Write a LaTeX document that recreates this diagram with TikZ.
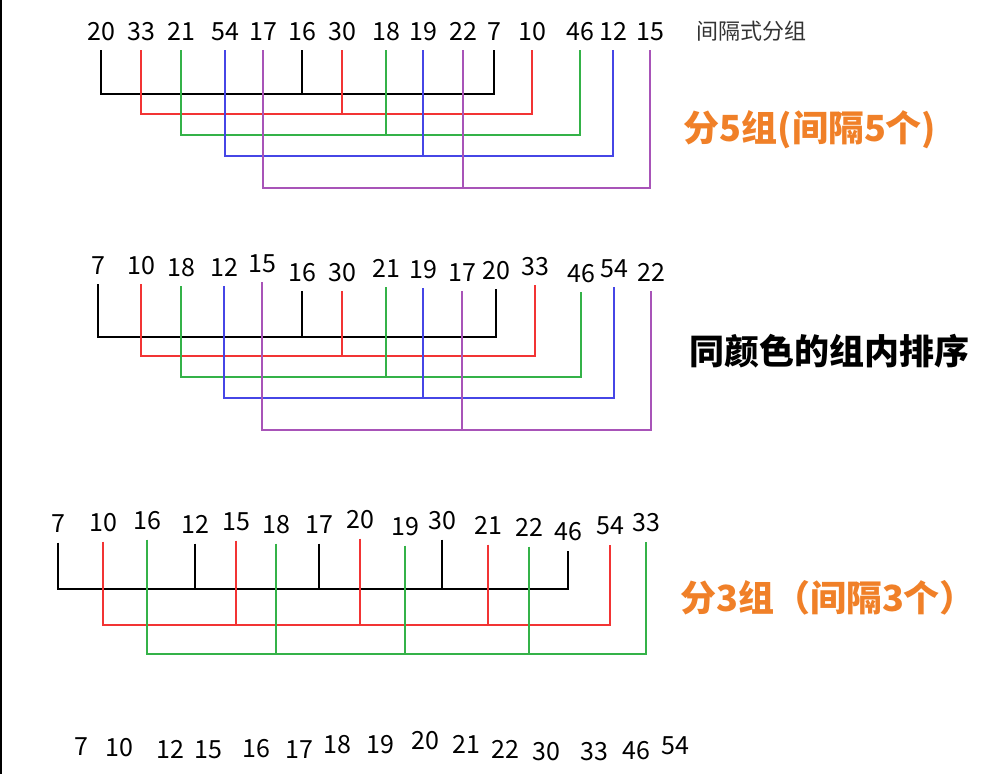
\documentclass[tikz,border=0pt]{standalone}
\usepackage{fontspec}
\setmainfont{Noto Sans CJK SC}
\definecolor{grpred}{RGB}{242,52,52}
\definecolor{grpgreen}{RGB}{52,178,72}
\definecolor{grpblue}{RGB}{70,70,230}
\definecolor{grppurple}{RGB}{168,84,184}
\definecolor{titleorange}{RGB}{240,128,40}

\begin{document}
\begin{tikzpicture}[x=0.5pt, y=-0.5pt,
  % numbers of the rows
  num/.style={inner sep=0pt, text height=9.1pt, text depth=0pt,
              font=\fontsize{12.5}{14}\selectfont},
  % connectors of one group, one colour each
  blkline/.style={draw=black, line width=1.3pt},
  redline/.style={draw=grpred, line width=1.3pt},
  grnline/.style={draw=grpgreen, line width=1.3pt},
  bluline/.style={draw=grpblue, line width=1.3pt},
  purline/.style={draw=grppurple, line width=1.3pt},
  % side titles
  smalltitle/.style={font=\fontsize{11}{13}\selectfont, text=black!80},
  steptitle/.style={font=\fontsize{18}{20}\selectfont\bfseries, text=titleorange},
  sorttitle/.style={font=\fontsize{17.5}{20}\selectfont\bfseries, text=black}
]
  \useasboundingbox (0,0) rectangle (989,774);
  % left border of the screenshot
  \draw[line width=1pt] (1,0) -- (1,774);

  % Row 1: start order
  \foreach \x/\y/\t [count=\i] in {101/31/20, 141/31/33, 181/31/21, 225/31/54, 263/31/17,
      302/31/16, 342/31/30, 386/31/18, 423/31/19, 463/31/22, 494/31/7, 532/31/10,
      580/31/46, 613/31/12, 650/31/15}
    \node[num] (a\i) at (\x,\y) {\t};

  % Row 2: after sorting inside each group
  \foreach \x/\y/\t [count=\i] in {98/265/7, 141/265/10, 181/267/18, 224/267/12, 262/263/15,
      302/272/16, 342/272/30, 386/268/21, 423/269/19, 462/272/17, 496/270/20, 535/266/33,
      581/273/46, 614/268/54, 651/272/22}
    \node[num] (b\i) at (\x,\y) {\t};

  % Row 3: three groups
  \foreach \x/\y/\t [count=\i] in {58/523/7, 103/522/10, 147/520/16, 195/524/12, 236/521/15,
      276/524/18, 319/524/17, 360/519/20, 405/526/19, 442/520/30, 488/525/21, 529/527/22,
      568/531/46, 610/525/54, 646/522/33}
    \node[num] (c\i) at (\x,\y) {\t};

  % Row 4: result
  \foreach \x/\y/\t [count=\i] in {81/746/7, 119/747/10, 170/749/12, 208/749/15, 256/748/16,
      299/749/17, 337/744/18, 380/744/19, 425/740/20, 466/744/21, 505/749/22, 546/751/30,
      594/751/33, 636/750/46, 675/745/54}
    \node[num] (d\i) at (\x,\y) {\t};

  % Titles on the right
  \node[smalltitle] (intro) at (751,31) {间隔式分组};
  \node[steptitle] (five) at (810,130) {分5组(间隔5个)};
  \node[sorttitle] (sortin) at (829,351) {同颜色的组内排序};
  \node[steptitle] (three) at (828,598) {分3组（间隔3个）};

  % Bar levels
  \coordinate (barA1) at (0,94);
  \coordinate (barA2) at (0,114);
  \coordinate (barA3) at (0,135);
  \coordinate (barA4) at (0,156);
  \coordinate (barA5) at (0,188);
  \coordinate (barB1) at (0,337);
  \coordinate (barB2) at (0,356);
  \coordinate (barB3) at (0,377);
  \coordinate (barB4) at (0,398);
  \coordinate (barB5) at (0,430);
  \coordinate (barC1) at (0,589);
  \coordinate (barC2) at (0,625);
  \coordinate (barC3) at (0,654);

  % Row 1 groups
  \draw[blkline] ([yshift=-5pt]a1.south) -- (a1.south |- barA1) -| ([yshift=-5pt]a11.south);
  \draw[blkline] ([yshift=-5pt]a6.south) -- (a6.south |- barA1);
  \draw[redline] ([yshift=-5pt]a2.south) -- (a2.south |- barA2) -| ([yshift=-5pt]a12.south);
  \draw[redline] ([yshift=-5pt]a7.south) -- (a7.south |- barA2);
  \draw[grnline] ([yshift=-5pt]a3.south) -- (a3.south |- barA3) -| ([yshift=-5pt]a13.south);
  \draw[grnline] ([yshift=-5pt]a8.south) -- (a8.south |- barA3);
  \draw[bluline] ([yshift=-5pt]a4.south) -- (a4.south |- barA4) -| ([yshift=-5pt]a14.south);
  \draw[bluline] ([yshift=-5pt]a9.south) -- (a9.south |- barA4);
  \draw[purline] ([yshift=-5pt]a5.south) -- (a5.south |- barA5) -| ([yshift=-5pt]a15.south);
  \draw[purline] ([yshift=-5pt]a10.south) -- (a10.south |- barA5);

  % Row 2 groups
  \draw[blkline] ([yshift=-5pt]b1.south) -- (b1.south |- barB1) -| ([yshift=-5pt]b11.south);
  \draw[blkline] ([yshift=-5pt]b6.south) -- (b6.south |- barB1);
  \draw[redline] ([yshift=-5pt]b2.south) -- (b2.south |- barB2) -| ([yshift=-5pt]b12.south);
  \draw[redline] ([yshift=-5pt]b7.south) -- (b7.south |- barB2);
  \draw[grnline] ([yshift=-5pt]b3.south) -- (b3.south |- barB3) -| ([yshift=-5pt]b13.south);
  \draw[grnline] ([yshift=-5pt]b8.south) -- (b8.south |- barB3);
  \draw[bluline] ([yshift=-5pt]b4.south) -- (b4.south |- barB4) -| ([yshift=-5pt]b14.south);
  \draw[bluline] ([yshift=-5pt]b9.south) -- (b9.south |- barB4);
  \draw[purline] ([yshift=-5pt]b5.south) -- (b5.south |- barB5) -| ([yshift=-5pt]b15.south);
  \draw[purline] ([yshift=-5pt]b10.south) -- (b10.south |- barB5);

  % Row 3 groups
  \draw[blkline] ([yshift=-5pt]c1.south) -- (c1.south |- barC1) -| ([yshift=-5pt]c13.south);
  \foreach \i in {4,7,10}
    \draw[blkline] ([yshift=-5pt]c\i.south) -- (c\i.south |- barC1);
  \draw[redline] ([yshift=-5pt]c2.south) -- (c2.south |- barC2) -| ([yshift=-5pt]c14.south);
  \foreach \i in {5,8,11}
    \draw[redline] ([yshift=-5pt]c\i.south) -- (c\i.south |- barC2);
  \draw[grnline] ([yshift=-5pt]c3.south) -- (c3.south |- barC3) -| ([yshift=-5pt]c15.south);
  \foreach \i in {6,9,12}
    \draw[grnline] ([yshift=-5pt]c\i.south) -- (c\i.south |- barC3);

\end{tikzpicture}
\end{document}
